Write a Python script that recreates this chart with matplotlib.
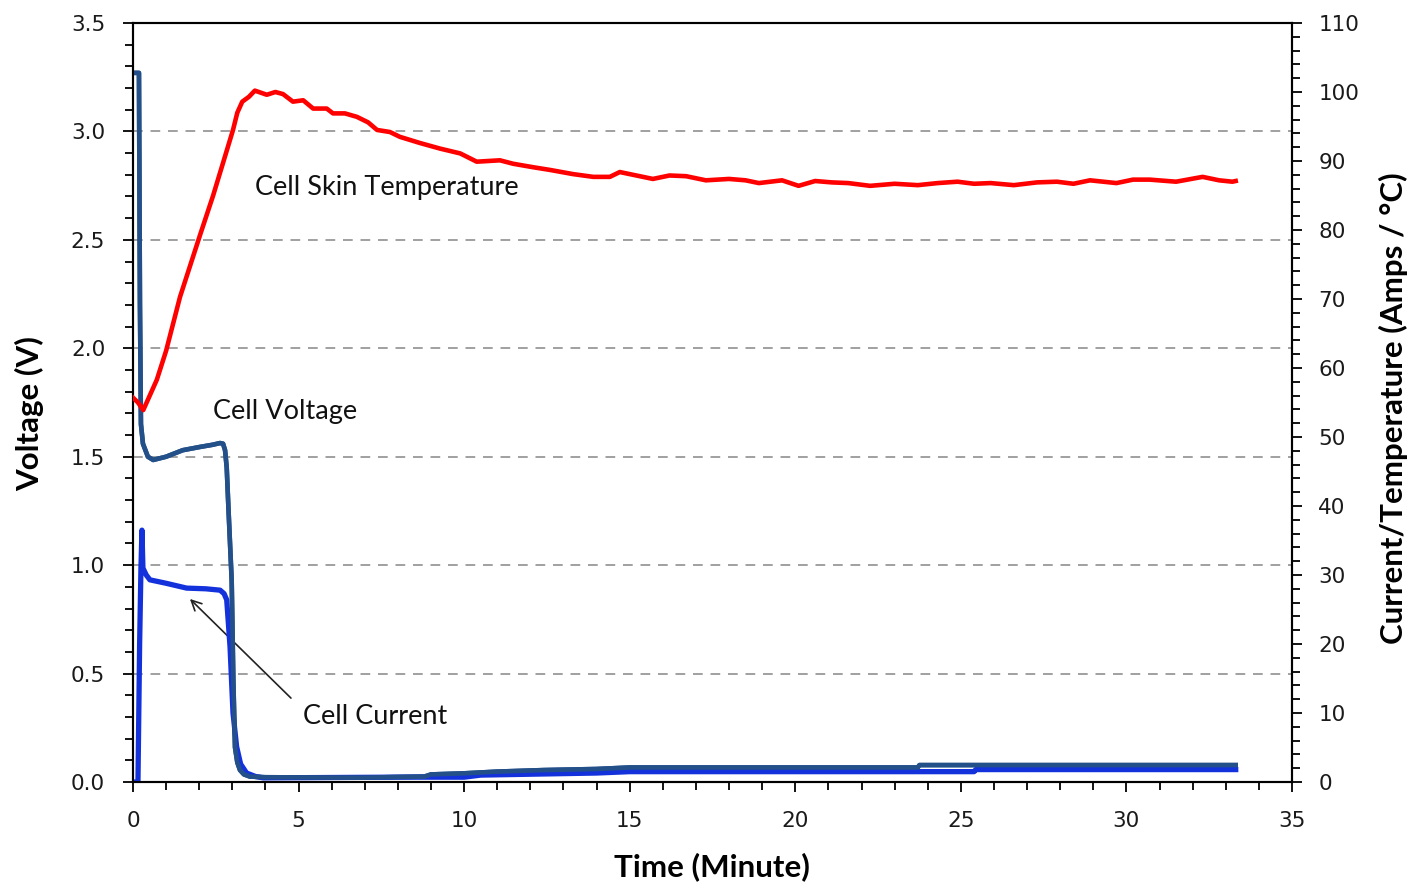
import matplotlib
matplotlib.use("Agg")
from matplotlib import pyplot as plt
from matplotlib.ticker import MultipleLocator, FormatStrFormatter

# cell voltage (V), left axis
volt_t = [0.08, 0.18, 0.21, 0.24, 0.3, 0.45, 0.61, 1.0, 1.5, 2.02, 2.4, 2.63, 2.72, 2.78, 2.83,
          2.88, 2.93, 2.98, 3.03, 3.08, 3.15, 3.23, 3.35, 3.53, 4.0, 6.9, 8.8, 9.0, 10.0, 11.0,
          12.4, 14.0, 15.0, 23.7, 23.75, 33.3]
volt_v = [3.27, 3.27, 2.2, 1.65, 1.56, 1.5, 1.485, 1.5, 1.53, 1.545, 1.555, 1.563, 1.56, 1.53, 1.45,
          1.27, 1.1, 0.93, 0.47, 0.16, 0.09, 0.055, 0.035, 0.025, 0.022, 0.02, 0.025, 0.035, 0.04, 0.048,
          0.055, 0.06, 0.067, 0.067, 0.078, 0.078]

# cell current (A), right axis
curr_t = [0.0, 0.15, 0.2, 0.24, 0.27, 0.3, 0.4, 0.51, 1.0, 1.62, 2.2, 2.63, 2.75, 2.83, 2.93,
          3.02, 3.13, 3.25, 3.43, 3.7, 3.93, 8.0, 10.0, 10.5, 14.0, 15.0, 25.4, 25.45, 33.3]
curr_a = [0.0, 0.0, 20.0, 31.0, 36.5, 31.0, 30.0, 29.3, 28.8, 28.1, 28.0, 27.8, 27.3, 26.4, 19.6,
          10.0, 5.1, 2.6, 1.3, 0.8, 0.6, 0.7, 0.7, 1.0, 1.3, 1.5, 1.5, 1.8, 1.8]

# cell skin temperature (deg C), right axis
temp_t = [0.0, 0.15, 0.31, 0.72, 1.0, 1.42, 2.02, 2.42, 2.73, 3.02, 3.15, 3.3, 3.5, 3.68, 4.04, 4.3,
          4.53, 4.83, 5.14, 5.44, 5.85, 6.04, 6.4, 6.76, 7.1, 7.37, 7.76, 8.06, 8.67, 9.27, 9.88,
          10.38, 11.08, 11.48, 12.08, 12.6, 13.29, 13.9, 14.4, 14.7, 15.1, 15.7, 16.2, 16.7, 17.3,
          18.0, 18.5, 18.9, 19.6, 20.1, 20.6, 21.1, 21.6, 22.26, 23.0, 23.7, 24.3, 24.9, 25.4,
          25.9, 26.6, 27.3, 27.9, 28.4, 28.9, 29.7, 30.2, 30.7, 31.5, 32.3, 32.8, 33.2, 33.3]
temp_c = [55.7, 55.0, 53.9, 58.3, 62.5, 70.3, 79.2, 85.0, 89.9, 94.5, 97.0, 98.6, 99.3, 100.2, 99.6,
          100.0, 99.7, 98.6, 98.8, 97.6, 97.6, 96.9, 96.9, 96.4, 95.6, 94.5, 94.2, 93.5, 92.6, 91.8,
          91.1, 89.9, 90.1, 89.6, 89.1, 88.7, 88.1, 87.7, 87.7, 88.4, 88.0, 87.4, 87.9, 87.8, 87.2,
          87.4, 87.2, 86.8, 87.2, 86.4, 87.1, 86.9, 86.8, 86.4, 86.7, 86.5, 86.8, 87.0, 86.7,
          86.8, 86.5, 86.9, 87.0, 86.7, 87.2, 86.8, 87.3, 87.3, 87.0, 87.7, 87.2, 87.0, 87.1]

note_font = "Lato"

fig = plt.figure(figsize=(14.12, 8.86), dpi=100)
ax = fig.add_axes([133/1412, 104/886, 1159/1412, 759/886])
ax2 = ax.twinx()

ax.plot(volt_t, volt_v, color="#24508a", lw=3.3, solid_joinstyle="round", zorder=3)
ax2.plot(curr_t, curr_a, color="#1432dc", lw=3.8, solid_joinstyle="round", zorder=2)
ax2.plot(temp_t, temp_c, color="#ff0000", lw=3.3, solid_joinstyle="round", zorder=3)
# keep voltage on top of current at the bottom
ax2.plot(volt_t, [v * 110 / 3.5 for v in volt_v], color="#24508a", lw=3.3, zorder=2.5)

ax.set_xlim(0, 35)
ax.set_ylim(0, 3.5)
ax2.set_ylim(0, 110)

for y in [0.5, 1.0, 1.5, 2.0, 2.5, 3.0]:
    ax.axhline(y, color="#a0a0a0", lw=1.4, ls=(0, (5, 4)), zorder=1)

ax.xaxis.set_major_locator(MultipleLocator(5))
ax.xaxis.set_minor_locator(MultipleLocator(1))
ax.yaxis.set_major_locator(MultipleLocator(0.5))
ax.yaxis.set_minor_locator(MultipleLocator(0.1))
ax.yaxis.set_major_formatter(FormatStrFormatter("%.1f"))
ax2.yaxis.set_major_locator(MultipleLocator(10))
ax2.yaxis.set_minor_locator(MultipleLocator(2))

for a in (ax, ax2):
    a.tick_params(which="major", length=7, width=1.3, color="black", labelsize=15.5,
                  labelcolor="#1a1a1a")
    a.tick_params(which="minor", length=5.5, width=1.3, color="black")
    for s in a.spines.values():
        s.set_linewidth(1.5)
        s.set_color("black")
ax.tick_params(axis="y", which="major", pad=13)
ax.tick_params(axis="x", which="major", pad=14)
ax2.tick_params(axis="y", which="major", pad=12)

fig.text(712/1412, 1 - 867/886, "Time (Minute)", ha="center", va="center",
         fontsize=22.5, fontweight="bold", family=note_font)
fig.text(30/1412, 1 - 414/886, "Voltage (V)", ha="center", va="center", rotation=90,
         fontsize=22.5, fontweight="bold", family=note_font)
fig.text(1393/1412, 1 - 408/886, "Current/Temperature (Amps / \u00b0C)", ha="center",
         va="center", rotation=90, fontsize=22.5, fontweight="bold", family=note_font)

ax.text(3.68, 2.74, "Cell Skin Temperature", fontsize=19.5, family=note_font,
        va="center", ha="left", color="#111111")
ax.text(2.42, 1.71, "Cell Voltage", fontsize=19.5, family=note_font,
        va="center", ha="left", color="#111111")
ax.text(5.13, 0.30, "Cell Current", fontsize=19.5, family=note_font,
        va="center", ha="left", color="#111111")
ax.annotate("", xy=(1.66, 0.853), xytext=(4.83, 0.378),
            arrowprops=dict(arrowstyle="->", color="#222222", lw=1.2, mutation_scale=18),
            zorder=4)

fig.savefig("out.png", dpi=100)
